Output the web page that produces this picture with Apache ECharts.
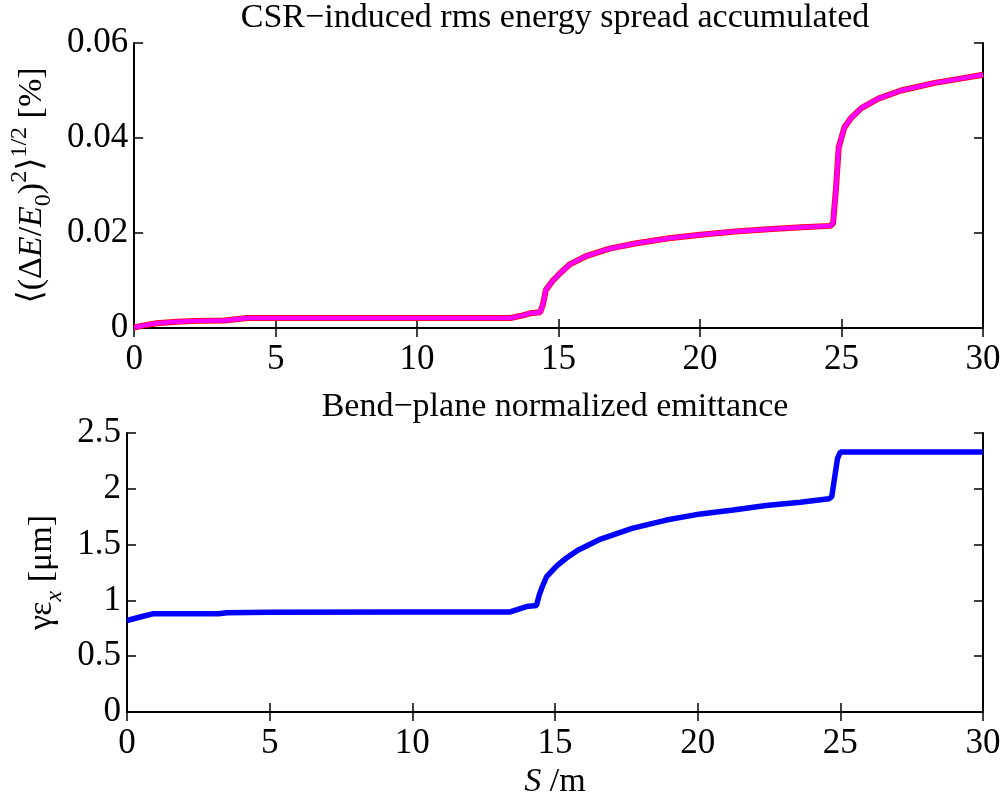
<!DOCTYPE html>
<html>
<head>
<meta charset="utf-8">
<script src="https://cdn.jsdelivr.net/npm/echarts@6/dist/echarts.min.js"></script>
<style>html,body{margin:0;padding:0;background:#fff}#c{width:1005px;height:800px}</style>
</head>
<body>
<div id="c"></div>
<script>
// Top panel: CSR-induced rms energy spread [%]
const sTop = [0, 0.4, 0.8, 1.5, 2.2, 3.2, 4.0, 5, 7, 10, 12, 13.3, 13.7, 14.0, 14.35, 14.45, 14.55, 14.8, 15.1, 15.4, 16.0, 16.8, 17.7, 18.9, 20.1, 21.25, 22.4, 23.6, 24.6, 24.7, 24.8, 24.9, 25.1, 25.35, 25.7, 26.3, 27.1, 28.3, 29.2, 30];
const spreadTop = [0.0001, 0.0006, 0.0010, 0.0013, 0.0015, 0.0016, 0.0021, 0.0021, 0.0021, 0.0021, 0.0021, 0.0021, 0.0026, 0.0031, 0.0033, 0.0050, 0.0080, 0.0100, 0.0118, 0.0134, 0.0152, 0.0167, 0.0178, 0.0189, 0.0197, 0.0203, 0.0208, 0.0212, 0.0215, 0.0220, 0.0290, 0.0380, 0.0422, 0.0443, 0.0463, 0.0483, 0.0500, 0.0516, 0.0525, 0.0533];
// Bottom panel: bend-plane normalized emittance [um]
const sBot = [0, 0.3, 0.6, 0.9, 2, 3.2, 3.5, 5, 10, 13.4, 13.7, 14.0, 14.35, 14.45, 14.55, 14.7, 15.06, 15.4, 15.8, 16.6, 17.7, 18.9, 20.1, 21.25, 22.4, 23.6, 24.6, 24.7, 24.8, 24.9, 25.0, 30];
const emitBot = [0.82, 0.84, 0.86, 0.88, 0.88, 0.88, 0.89, 0.893, 0.895, 0.895, 0.92, 0.945, 0.955, 1.05, 1.12, 1.21, 1.31, 1.38, 1.45, 1.55, 1.645, 1.72, 1.775, 1.81, 1.85, 1.88, 1.91, 1.93, 2.10, 2.27, 2.33, 2.33];
const xTicks = [0, 30, 5];
const yTopTicks = [0, 0.06, 0.02];
const yBotTicks = [0, 2.5, 0.5];
const titles = ['CSR\u2212induced rms energy spread accumulated', 'Bend\u2212plane normalized emittance'];

const FF = '"Liberation Serif", "DejaVu Serif", serif';
const FS = 35;
const TFS = 34;
const pair = (xs, ys) => xs.map((x, i) => [x, ys[i]]);

function xAx(gi, pos, labels, extra) {
  return Object.assign({
    type: 'value', gridIndex: gi, position: pos, min: xTicks[0], max: xTicks[1], interval: xTicks[2],
    axisLine: {show: true, lineStyle: {color: '#000', width: 2}},
    axisTick: {show: true, inside: true, length: 9, lineStyle: {color: '#000', width: 1.5}},
    axisLabel: {show: labels, color: '#000', fontFamily: FF, fontSize: FS, margin: 14},
    splitLine: {show: false}
  }, extra || {});
}
function yAx(gi, pos, labels, t, extra) {
  return Object.assign({
    type: 'value', gridIndex: gi, position: pos, min: t[0], max: t[1], interval: t[2],
    axisLine: {show: true, onZero: false, lineStyle: {color: '#000', width: 2}},
    axisTick: {show: true, inside: true, length: 9, lineStyle: {color: '#000', width: 1.5}},
    axisLabel: {show: labels, color: '#000', fontFamily: FF, fontSize: FS, margin: 6},
    splitLine: {show: false}
  }, extra || {});
}

const rich = {
  n: {fontFamily: FF, fontSize: TFS, color: '#000', lineHeight: 48, verticalAlign: 'middle'},
  i: {fontFamily: FF, fontSize: TFS, fontStyle: 'italic', color: '#000', lineHeight: 48, verticalAlign: 'middle'},
  sub: {fontFamily: FF, fontSize: 24, color: '#000', lineHeight: 22, verticalAlign: 'bottom'},
  subi: {fontFamily: FF, fontSize: 24, fontStyle: 'italic', color: '#000', lineHeight: 22, verticalAlign: 'bottom'},
  sup: {fontFamily: FF, fontSize: 24, color: '#000', lineHeight: 22, verticalAlign: 'top'}
};

const chart = echarts.init(document.getElementById('c'));
chart.setOption({
  animation: false,
  backgroundColor: '#fff',
  title: [
    {text: titles[0], left: 555, textAlign: 'center', top: 1, padding: 0, textStyle: {fontFamily: FF, fontSize: TFS, fontWeight: 'normal', color: '#000'}},
    {text: titles[1], left: 555, textAlign: 'center', top: 390, padding: 0, textStyle: {fontFamily: FF, fontSize: TFS, fontWeight: 'normal', color: '#000'}}
  ],
  grid: [
    {left: 127, top: 43, width: 856, height: 285},
    {left: 127, top: 433, width: 856, height: 286}
  ],
  xAxis: [
    xAx(0, 'bottom', true),
    xAx(0, 'top', false),
    xAx(1, 'bottom', true, {name: '{i|S}{n| /m}', nameLocation: 'middle', nameGap: 46, nameTextStyle: {rich: rich}}),
    xAx(1, 'top', false)
  ],
  yAxis: [
    yAx(0, 'left', true, yTopTicks, {name: '{n|\u27e8(\u0394}{i|E}{n|/}{i|E}{sub|0}{n|)}{sup|2}{n|\u27e9}{sup|1/2}{n| [%]}', nameLocation: 'middle', nameGap: 66, nameTextStyle: {rich: rich}}),
    yAx(0, 'right', false, yTopTicks),
    yAx(1, 'left', true, yBotTicks, {name: '{n|\u03b3\u03b5}{subi|x}{n| [\u03bcm]}', nameLocation: 'middle', nameGap: 55, nameTextStyle: {rich: rich}}),
    yAx(1, 'right', false, yBotTicks)
  ],
  series: [
    {type: 'line', xAxisIndex: 0, yAxisIndex: 0, data: pair(sTop, spreadTop), showSymbol: false, lineStyle: {color: '#ff0000', width: 6}, z: 2},
    {type: 'line', xAxisIndex: 0, yAxisIndex: 0, data: pair(sTop, spreadTop), showSymbol: false, lineStyle: {color: '#ff00ff', width: 4.5}, z: 3},
    {type: 'line', xAxisIndex: 2, yAxisIndex: 2, data: pair(sBot, emitBot), showSymbol: false, lineStyle: {color: '#0000ff', width: 5.5}, z: 3}
  ]
});
</script>
</body>
</html>
